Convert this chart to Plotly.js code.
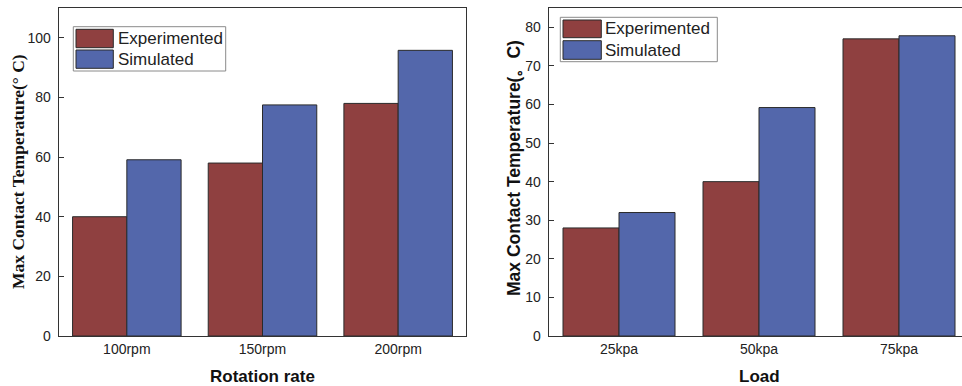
<!DOCTYPE html>
<html>
<head>
<meta charset="utf-8">
<script src="https://cdn.plot.ly/plotly-3.0.1.min.js"></script>
<style>html,body{margin:0;padding:0;background:#fff;overflow:hidden}</style>
</head>
<body>
<div id="chart" style="width:962px;height:386px"></div>
<script>
// Data
var rotationCategories = ["100rpm", "150rpm", "200rpm"];
var rotationExperimented = [40, 58, 78];
var rotationSimulated = [59.1, 77.5, 95.8];
var loadCategories = ["25kpa", "50kpa", "75kpa"];
var loadExperimented = [28, 40, 77];
var loadSimulated = [32, 59.2, 77.8];
var seriesNames = ["Experimented", "Simulated"];
var leftYTitle = "Max Contact Temperature(° C)";
var rightYTitle = "Max Contact Temperature(。C)";
var leftXTitle = "Rotation rate";
var rightXTitle = "Load";

var W = 962, H = 386, T = 8, B = 50;
var plotH = H - T - B;
function px(x){ return x / W; }
function py(y){ return (H - B - y) / plotH; }

var red = "#8f4040", blue = "#5367ab", edge = "#2a2a2a";
var sansFont = "Arial, 'Liberation Sans', sans-serif";

var traces = [
  {type:"bar", x:rotationCategories, y:rotationExperimented, name:seriesNames[0], xaxis:"x", yaxis:"y",
   marker:{color:red, line:{color:edge, width:1}}, showlegend:false},
  {type:"bar", x:rotationCategories, y:rotationSimulated, name:seriesNames[1], xaxis:"x", yaxis:"y",
   marker:{color:blue, line:{color:edge, width:1}}, showlegend:false},
  {type:"bar", x:loadCategories, y:loadExperimented, name:seriesNames[0], xaxis:"x2", yaxis:"y2",
   marker:{color:red, line:{color:edge, width:1}}, showlegend:false},
  {type:"bar", x:loadCategories, y:loadSimulated, name:seriesNames[1], xaxis:"x2", yaxis:"y2",
   marker:{color:blue, line:{color:edge, width:1}}, showlegend:false}
];

var axisCommon = {showgrid:false, zeroline:false, showline:true, linecolor:"#333", linewidth:1.3,
  tickfont:{family:sansFont, size:14, color:"#222"}};

function legendShapes(box, sw1, sw2){
  return [
    {type:"rect", xref:"paper", yref:"paper", x0:px(box[0]), x1:px(box[1]), y0:py(box[2]), y1:py(box[3]),
     line:{color:"#8a8a8a", width:1}, fillcolor:"#ffffff", layer:"above"},
    {type:"rect", xref:"paper", yref:"paper", x0:px(sw1[0]), x1:px(sw1[1]), y0:py(sw1[2]), y1:py(sw1[3]),
     line:{color:edge, width:1}, fillcolor:red, layer:"above"},
    {type:"rect", xref:"paper", yref:"paper", x0:px(sw2[0]), x1:px(sw2[1]), y0:py(sw2[2]), y1:py(sw2[3]),
     line:{color:edge, width:1}, fillcolor:blue, layer:"above"}
  ];
}
function legendText(x, y1, y2){
  return [
    {text:seriesNames[0], xref:"paper", yref:"paper", x:px(x), y:py(y1), xanchor:"left", yanchor:"middle",
     showarrow:false, font:{family:sansFont, size:17, color:"#222"}},
    {text:seriesNames[1], xref:"paper", yref:"paper", x:px(x), y:py(y2), xanchor:"left", yanchor:"middle",
     showarrow:false, font:{family:sansFont, size:17, color:"#222"}}
  ];
}

var shapes = [].concat(
  legendShapes([73.3, 225.7, 26.7, 71], [76, 113.3, 29.3, 47.7], [76, 113.3, 50, 68.3]),
  legendShapes([560.3, 717.3, 17.3, 61.7], [563, 601.3, 20, 37.7], [563, 601.3, 40.7, 59.3])
);

var annotations = [].concat(
  legendText(116, 38.5, 59.2),
  legendText(603, 28.8, 50),
  [
    {text:"<b>"+leftYTitle+"</b>", xref:"paper", yref:"paper", x:px(17.5), y:py(171.5), textangle:-90,
     showarrow:false, xanchor:"center", yanchor:"middle",
     font:{family:"'Liberation Serif', 'Times New Roman', serif", size:17.5, color:"#111"}},
    {text:"<b>"+rightYTitle+"</b>", xref:"paper", yref:"paper", x:px(514), y:py(168), textangle:-90,
     showarrow:false, xanchor:"center", yanchor:"middle",
     font:{family:sansFont, size:17.5, color:"#111"}},
    {text:"<b>"+leftXTitle+"</b>", xref:"paper", yref:"paper", x:px(262.5), y:py(376), showarrow:false,
     xanchor:"center", yanchor:"middle", font:{family:sansFont, size:17, color:"#111"}},
    {text:"<b>"+rightXTitle+"</b>", xref:"paper", yref:"paper", x:px(759), y:py(376), showarrow:false,
     xanchor:"center", yanchor:"middle", font:{family:sansFont, size:17, color:"#111"}}
  ]
);

var layout = {
  width:W, height:H, margin:{l:0, r:0, t:T, b:B},
  paper_bgcolor:"#fff", plot_bgcolor:"#fff",
  barmode:"group", bargap:0.2, bargroupgap:0,
  showlegend:false,
  xaxis: Object.assign({}, axisCommon, {domain:[px(59), px(466)], anchor:"y", mirror:true,
    ticks:"", range:[-0.5, 2.5], type:"category"}),
  yaxis: Object.assign({}, axisCommon, {domain:[0,1], anchor:"x", mirror:true, range:[0,110],
    dtick:20, tick0:0, ticks:"inside", ticklen:5, tickcolor:"#333", tickwidth:1, ticklabelstandoff:4}),
  xaxis2: Object.assign({}, axisCommon, {domain:[px(549), 1], anchor:"y2", mirror:true,
    ticks:"", range:[-0.5, -0.5 + (962-549)/140], type:"category"}),
  yaxis2: Object.assign({}, axisCommon, {domain:[0,1], anchor:"x2", mirror:false, range:[0,85],
    dtick:10, tick0:0, ticks:"inside", ticklen:5, tickcolor:"#333", tickwidth:1, ticklabelstandoff:4}),
  shapes:shapes,
  annotations:annotations
};

Plotly.newPlot("chart", traces, layout, {staticPlot:true, displayModeBar:false});
</script>
</body>
</html>
